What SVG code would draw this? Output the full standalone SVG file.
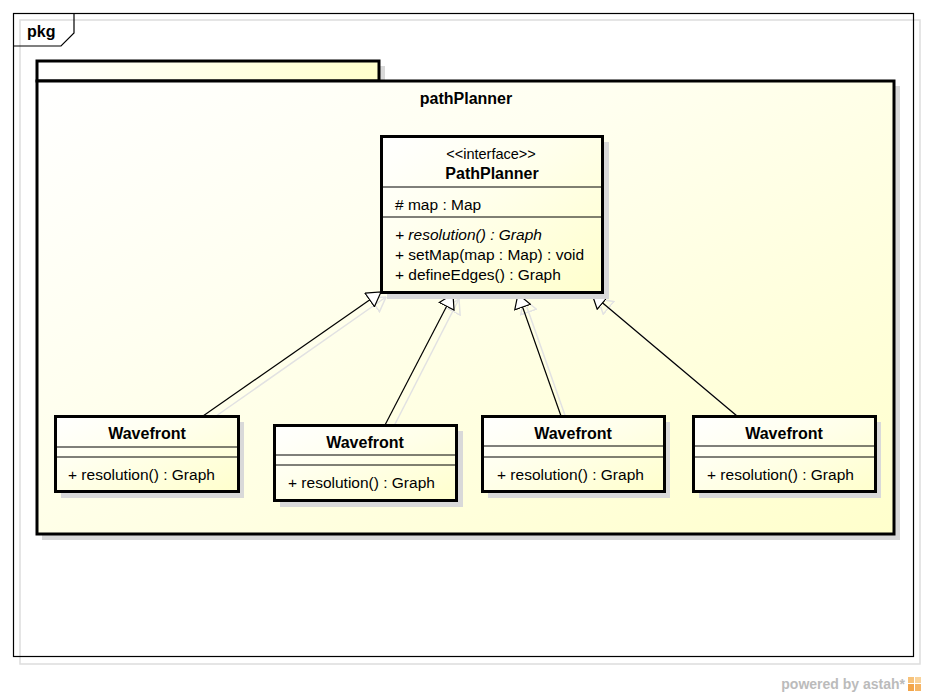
<svg xmlns="http://www.w3.org/2000/svg" width="928" height="697" viewBox="0 0 928 697">
<defs>
<linearGradient id="gBody" x1="0" y1="0" x2="1" y2="1">
<stop offset="0" stop-color="#ffffff"/>
<stop offset="0.35" stop-color="#fffff0"/>
<stop offset="1" stop-color="#ffffcc"/>
</linearGradient>
<linearGradient id="gTab" x1="0" y1="0" x2="1" y2="0">
<stop offset="0" stop-color="#ffffff"/>
<stop offset="1" stop-color="#ffffcc"/>
</linearGradient>
<marker id="gen" viewBox="0 0 15 18" refX="14.5" refY="9" markerWidth="15" markerHeight="18" markerUnits="userSpaceOnUse" orient="auto">
<path d="M0.7,0.7 L14.5,9 L0.7,17.3 Z" fill="#ffffff" stroke="#000000" stroke-width="1.2"/>
</marker>
<marker id="genS" viewBox="0 0 15 18" refX="14.5" refY="9" markerWidth="15" markerHeight="18" markerUnits="userSpaceOnUse" orient="auto">
<path d="M0.7,0.7 L14.5,9 L0.7,17.3 Z" fill="none" stroke="#e2e2e2" stroke-width="1.5"/>
</marker>
</defs>
<style>
text{font-family:"Liberation Sans",Arial,sans-serif;fill:#000}
.t{font-size:15.5px}
.b{font-size:16px;font-weight:bold}
.s{font-size:14.5px}
.box{stroke:#000;stroke-width:3;fill:url(#gBody)}
.shadow{fill:#d9d9d9}
.div{stroke:#000;stroke-width:1}
.con{stroke:#000;stroke-width:1.2;fill:none;marker-end:url(#gen)}
.conS{stroke:#e2e2e2;stroke-width:1.5;fill:none;marker-end:url(#genS)}
</style>
<rect x="0" y="0" width="928" height="697" fill="#ffffff"/>
<g id="frame">
<rect x="20" y="20" width="900" height="644" fill="none" stroke="#dddddd" stroke-width="1.5"/>
<rect x="13.5" y="13.5" width="900" height="643" fill="none" stroke="#000" stroke-width="1.2"/>
<path d="M13.5,46 L61,46 L74,33 L74,13.5" fill="none" stroke="#000" stroke-width="1.2"/>
<text x="27" y="37" class="b">pkg</text>
</g>
<g id="pathPlanner">
<rect x="42" y="66" width="343" height="20" class="shadow"/>
<rect x="42" y="86" width="858" height="454" class="shadow"/>
<rect x="37" y="61" width="342" height="20" stroke="#000" stroke-width="3" fill="url(#gTab)"/>
<rect x="37" y="81" width="857" height="453" class="box"/>
<text x="466" y="104" class="b" text-anchor="middle">pathPlanner</text>
</g>
<g id="connectors">
<line x1="209" y1="421" x2="386" y2="297" class="conS"/>
<line x1="392" y1="430" x2="459" y2="299" class="conS"/>
<line x1="567" y1="421" x2="524" y2="299" class="conS"/>
<line x1="743" y1="421" x2="598" y2="299" class="conS"/>
<line x1="203" y1="416" x2="381" y2="292" class="con"/>
<line x1="385" y1="425" x2="453" y2="294" class="con"/>
<line x1="561" y1="416" x2="518" y2="294" class="con"/>
<line x1="737" y1="416" x2="592" y2="294" class="con"/>
</g>
<g id="PathPlanner">
<rect x="387" y="142" width="222" height="157" class="shadow"/>
<rect x="381.5" y="136.5" width="221" height="156" class="box"/>
<line x1="381" y1="187" x2="603" y2="187" class="div"/>
<line x1="381" y1="217" x2="603" y2="217" class="div"/>
<text x="491" y="159" class="s" text-anchor="middle">&lt;&lt;interface&gt;&gt;</text>
<text x="492" y="179" class="b" text-anchor="middle">PathPlanner</text>
<text x="395" y="210" class="t"># map : Map</text>
<text x="395" y="240" class="t" font-style="italic">+ resolution() : Graph</text>
<text x="395" y="260" class="t">+ setMap(map : Map) : void</text>
<text x="395" y="280" class="t">+ defineEdges() : Graph</text>
</g>
<g id="Wavefront1">
<rect x="61" y="422" width="183" height="76" class="shadow"/>
<rect x="55.5" y="416.5" width="183" height="75" class="box"/>
<line x1="55" y1="447" x2="239" y2="447" class="div"/>
<line x1="55" y1="457" x2="239" y2="457" class="div"/>
<text x="147" y="439" class="b" text-anchor="middle">Wavefront</text>
<text x="68" y="480" class="t">+ resolution() : Graph</text>
</g>
<g id="Wavefront2">
<rect x="280" y="431" width="183" height="76" class="shadow"/>
<rect x="274.5" y="425.5" width="182" height="75" class="box"/>
<line x1="274" y1="455" x2="457" y2="455" class="div"/>
<line x1="274" y1="465" x2="457" y2="465" class="div"/>
<text x="365" y="448" class="b" text-anchor="middle">Wavefront</text>
<text x="288" y="488" class="t">+ resolution() : Graph</text>
</g>
<g id="Wavefront3">
<rect x="488" y="422" width="182" height="76" class="shadow"/>
<rect x="482.5" y="416.5" width="182" height="75" class="box"/>
<line x1="482" y1="446" x2="665" y2="446" class="div"/>
<line x1="482" y1="457" x2="665" y2="457" class="div"/>
<text x="573" y="439" class="b" text-anchor="middle">Wavefront</text>
<text x="497" y="480" class="t">+ resolution() : Graph</text>
</g>
<g id="Wavefront4">
<rect x="699" y="422" width="182" height="76" class="shadow"/>
<rect x="693.5" y="416.5" width="182" height="75" class="box"/>
<line x1="693" y1="446" x2="876" y2="446" class="div"/>
<line x1="693" y1="457" x2="876" y2="457" class="div"/>
<text x="784" y="439" class="b" text-anchor="middle">Wavefront</text>
<text x="707" y="480" class="t">+ resolution() : Graph</text>
</g>
<g id="brand">
<text x="905" y="689" text-anchor="end" style="font-size:14px;font-weight:bold;fill:#bbbbbb">powered by astah*</text>
<rect x="908" y="677" width="6" height="6" fill="#f7c27a"/>
<rect x="915" y="677" width="6" height="6" fill="#f9d39b"/>
<rect x="908" y="684" width="6" height="7" fill="#f3a54a"/>
<rect x="915" y="684" width="6" height="7" fill="#f5b565"/>
</g>
</svg>
